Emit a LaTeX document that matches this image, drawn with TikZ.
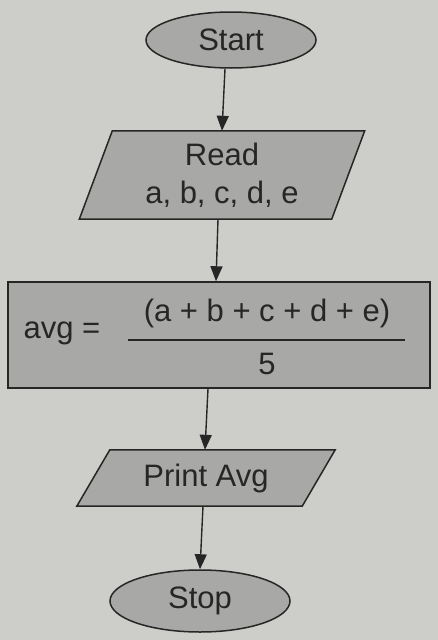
\documentclass[tikz,border=0pt]{standalone}
\usepackage{fontspec}
\setmainfont{Liberation Sans}
\usetikzlibrary{shapes.geometric,arrows.meta,calc}
\definecolor{paper}{RGB}{205,205,202}
\definecolor{boxfill}{RGB}{168,168,166}
\definecolor{ink}{RGB}{38,38,38}
\tikzset{
  every node/.style={font=\fontsize{31}{38}\selectfont, text=ink},
  outline/.style={draw=ink, line width=1.5pt, fill=boxfill},
  terminal/.style={outline, ellipse, inner sep=0pt},
  holder/.style={inner sep=0pt, align=center},
  flow/.style={draw=ink, line width=1.4pt, -{Triangle[length=15pt,width=12pt]}}
}
\begin{document}
\begin{tikzpicture}[x=1pt,y=-1pt]
  % page
  \fill[paper] (0,0) rectangle (438,640);
  \useasboundingbox (0,0) rectangle (438,640);

  % terminals
  \node[terminal, minimum width=170pt, minimum height=56pt] (start) at (231,40) {Start};
  \node[terminal, minimum width=180pt, minimum height=62pt] (stop) at (200,601) {Stop};

  % frames for the two parallelograms
  \node[holder, minimum width=285pt, minimum height=88pt] (read) at (222,175) {};
  \node[holder, minimum width=258pt, minimum height=56pt] (print) at (206,478) {};

  % parallelogram outlines
  \path[outline] (read.south west) -- ($(read.north west)+(33,0)$) -- (read.north east)
        -- ($(read.south east)-(33,0)$) -- cycle;
  \path[outline] (print.south west) -- ($(print.north west)+(33,0)$) -- (print.north east)
        -- ($(print.south east)-(33,0)$) -- cycle;
  \node[holder] (readtxt) at (read) {Read\\a, b, c, d, e};
  \node[holder] (printtxt) at (print) {Print Avg};

  % process box
  \node[outline, rectangle, minimum width=422pt, minimum height=106pt, inner sep=0pt] (calc) at (219,335) {};

  % formula
  \node[holder] (lhs) at (62,333) {avg =};
  \node[holder] (num) at (267,313) {(a + b + c + d + e)};
  \coordinate (barL) at (128,340);
  \coordinate (barR) at (405,340);
  \draw[ink, line width=1.5pt] (barL) -- (barR);
  \node[holder] (den) at (267,364) {5};

  % connectors
  \draw[flow] ($(start.south)+(-6,0)$) -- (read.north);
  \draw[flow] ($(read.south)+(-4,0)$) -- ($(calc.north)+(-3,0)$);
  \draw[flow] ($(calc.south)+(-11,0)$) -- ($(print.north)+(-1,0)$);
  \draw[flow] ($(print.south)+(-3,0)$) -- (stop.north);
\end{tikzpicture}
\end{document}
